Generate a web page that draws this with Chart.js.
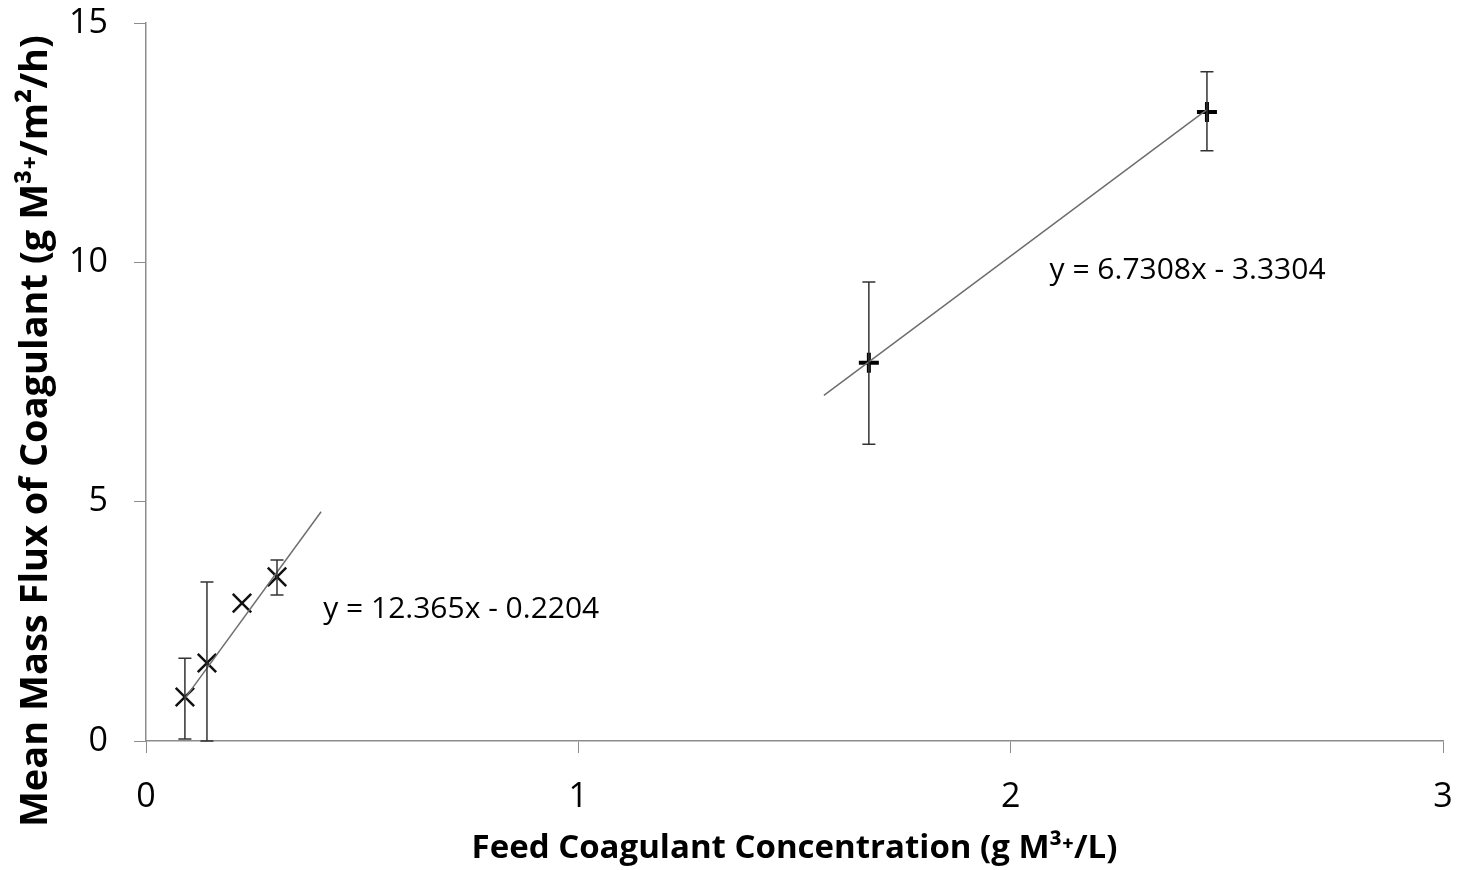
<!DOCTYPE html>
<html>
<head>
<meta charset="utf-8">
<script src="https://cdn.jsdelivr.net/npm/chart.js@4/dist/chart.umd.min.js"></script>
<style>
  body { margin: 0; background: #fff; }
  #wrap { width: 1459px; height: 870px; }
</style>
</head>
<body>
<div id="wrap"><canvas id="chart" width="1459" height="870"></canvas></div>
<script>
// low concentration runs (x markers)
const lowX = [0.09, 0.141, 0.222, 0.303];
const lowY = [0.92, 1.63, 2.88, 3.43];
const lowErrTop = [1.73, 3.32, 2.88, 3.78];
const lowErrBottom = [0.04, 0.0, 2.88, 3.05];

// high concentration runs (+ markers)
const highX = [1.672, 2.454];
const highY = [7.9, 13.14];
const highErrTop = [9.59, 13.98];
const highErrBottom = [6.2, 12.33];

// trendline ends as drawn
const trendLowX = [0.09, 0.405];
const trendLowY = [0.89, 4.79];
const trendHighX = [1.568, 2.454];
const trendHighY = [7.22, 13.19];

// trendline equations and where they sit
const eqLabels = ['y = 12.365x - 0.2204', 'y = 6.7308x - 3.3304'];
const eqX = [0.41, 2.09];
const eqY = [2.74, 9.82];

const xTicks = [0, 1, 2, 3];
const yTicks = [0, 5, 10, 15];

const yTitle = 'Mean Mass Flux of Coagulant (g M³⁺/m²/h)';

const pts = (xs, ys) => xs.map((x, i) => ({ x, y: ys[i] }));

const errorBars = {
  id: 'errorBars',
  afterDatasetsDraw(chart) {
    const { ctx, scales: { x, y } } = chart;
    ctx.save();
    ctx.strokeStyle = '#333';
    ctx.lineWidth = 1.5;
    chart.data.datasets.forEach((ds) => {
      if (!ds.errTop) return;
      ds.data.forEach((p, i) => {
        const px = x.getPixelForValue(p.x);
        const top = y.getPixelForValue(ds.errTop[i]);
        const bot = y.getPixelForValue(ds.errBottom[i]);
        if (Math.abs(top - bot) < 1) return;
        const cap = 6.5;
        ctx.beginPath();
        ctx.moveTo(px, top); ctx.lineTo(px, bot);
        ctx.moveTo(px - cap, top); ctx.lineTo(px + cap, top);
        ctx.moveTo(px - cap, bot); ctx.lineTo(px + cap, bot);
        ctx.stroke();
      });
    });
    ctx.restore();
  }
};

const eqText = {
  id: 'eqText',
  afterDatasetsDraw(chart) {
    const { ctx, scales: { x, y } } = chart;
    ctx.save();
    ctx.fillStyle = '#000';
    ctx.font = '30px "Open Sans"';
    ctx.textAlign = 'left';
    ctx.textBaseline = 'middle';
    eqLabels.forEach((t, i) => {
      ctx.fillText(t, x.getPixelForValue(eqX[i]), y.getPixelForValue(eqY[i]));
    });
    ctx.restore();
  }
};

// y title sits a little below the axis centre in the original
const yTitleText = {
  id: 'yTitleText',
  afterDraw(chart) {
    const { ctx, chartArea } = chart;
    ctx.save();
    ctx.translate(36, (chartArea.top + chartArea.bottom) / 2 + 49);
    ctx.rotate(-Math.PI / 2);
    ctx.fillStyle = '#000';
    ctx.font = 'bold 38px "Open Sans"';
    ctx.textAlign = 'center';
    ctx.textBaseline = 'middle';
    ctx.fillText(yTitle, 0, 0);
    ctx.restore();
  }
};

const noPad = (s) => {
  s.paddingTop = 0;
  s.paddingBottom = 0;
  s.paddingLeft = 0;
  s.paddingRight = 0;
};

const axisGrey = '#8c8c8c';

new Chart(document.getElementById('chart').getContext('2d'), {
  type: 'scatter',
  data: {
    datasets: [
      {
        data: pts(trendLowX, trendLowY),
        showLine: true,
        borderColor: '#6e6e6e',
        borderWidth: 1.5,
        pointRadius: 0,
      },
      {
        data: pts(trendHighX, trendHighY),
        showLine: true,
        borderColor: '#6e6e6e',
        borderWidth: 1.5,
        pointRadius: 0,
      },
      {
        data: pts(lowX, lowY),
        pointStyle: 'crossRot',
        pointRadius: 13,
        borderColor: '#111',
        borderWidth: 2.5,
        errTop: lowErrTop,
        errBottom: lowErrBottom,
      },
      {
        data: pts(highX, highY),
        pointStyle: 'cross',
        pointRadius: 10,
        borderColor: '#000',
        borderWidth: 4,
        errTop: highErrTop,
        errBottom: highErrBottom,
      },
    ],
  },
  options: {
    responsive: false,
    animation: false,
    layout: { padding: { top: 23, right: 16, left: 0, bottom: 0 } },
    plugins: {
      legend: { display: false },
      tooltip: { enabled: false },
    },
    scales: {
      x: {
        type: 'linear',
        min: 0,
        max: 3,
        afterBuildTicks: (s) => { s.ticks = xTicks.map((v) => ({ value: v })); },
        afterFit: (s) => { s.height = 129; noPad(s); },
        ticks: {
          color: '#000',
          padding: 24,
          font: { family: 'Open Sans', size: 34 },
        },
        grid: { drawOnChartArea: false, drawTicks: true, tickLength: 12, color: axisGrey },
        border: { color: axisGrey, width: 1.5 },
        title: {
          display: true,
          text: 'Feed Coagulant Concentration (g M³⁺/L)',
          color: '#000',
          font: { family: 'Open Sans', size: 33, weight: 'bold' },
          padding: { top: 0, bottom: 2 },
        },
      },
      y: {
        type: 'linear',
        min: 0,
        max: 15,
        afterBuildTicks: (s) => { s.ticks = yTicks.map((v) => ({ value: v })); },
        afterFit: (s) => { s.width = 146; noPad(s); },
        ticks: {
          color: '#000',
          padding: 26,
          font: { family: 'Open Sans', size: 34 },
        },
        grid: { drawOnChartArea: false, drawTicks: true, tickLength: 12, color: axisGrey },
        border: { color: axisGrey, width: 1.5 },
      },
    },
  },
  plugins: [errorBars, eqText, yTitleText],
});
</script>
</body>
</html>
